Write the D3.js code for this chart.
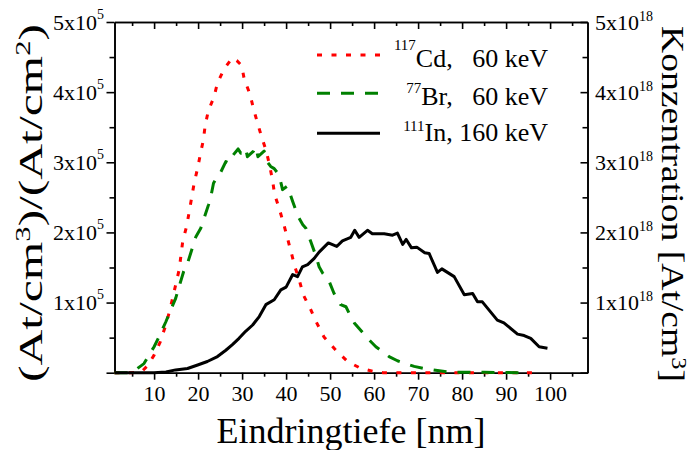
<!DOCTYPE html>
<html>
<head>
<meta charset="utf-8">
<script src="https://cdn.jsdelivr.net/npm/d3@7"></script>
<style>
  body { margin: 0; background: #fff; }
  svg { font-family: "Liberation Serif", "Times New Roman", serif; }
</style>
</head>
<body>
<svg id="chart" width="691" height="450"></svg>
<script>
// depth in nm, Cd and Br in units of 10^5 (At/cm3)/(At/cm2), In in units of 10^18 At/cm3
const cdDepth = [1, 3, 5, 6, 7.4, 8.5, 10, 11.4, 12.5, 13.4, 14.2, 15.7, 16.5, 17.4, 18, 19.1, 19.9, 20.5, 21.2, 21.6, 22.3, 23.6, 24.4, 25.9, 27.8, 28.8, 29.9, 30.5, 31.8, 32.6, 33.5, 34.4, 35.5, 36.3, 36.9, 37.4, 38.4, 39.5, 40.3, 41.1, 42, 43, 43.9, 45.6, 46.8, 48.6, 51.3, 54, 57, 60.4, 62, 70, 80, 90, 97];
const cdConc  = [0, 0, 0, 0.005, 0.03, 0.1, 0.25, 0.44, 0.65, 0.85, 1.06, 1.47, 1.87, 2.09, 2.3, 2.7, 2.92, 3.11, 3.32, 3.52, 3.73, 3.93, 4.13, 4.33, 4.49, 4.45, 4.38, 4.18, 3.97, 3.76, 3.56, 3.37, 3.16, 2.94, 2.75, 2.54, 2.35, 2.11, 1.92, 1.73, 1.51, 1.32, 1.11, 0.9, 0.73, 0.51, 0.32, 0.16, 0.06, 0.01, 0, 0, 0, 0, 0];

const brDepth = [1, 4, 5, 6.2, 7.7, 10, 11.1, 12.7, 13.8, 14.9, 15.7, 16.7, 17.6, 18.7, 19.5, 20.6, 21.5, 22.4, 22.9, 23.5, 24.4, 25, 26.3, 27, 27.4, 29.1, 29.7, 30.8, 31.2, 32.6, 33.1, 33.6, 35, 35.8, 36.5, 37.3, 38.4, 39.2, 40.3, 41.5, 42.7, 43.8, 44.5, 45.6, 46.8, 47.5, 48.3, 49.8, 50.9, 52.4, 53.6, 54.3, 55.5, 56.6, 58.5, 60.4, 63.4, 65.3, 69.1, 71.4, 74.4, 76.7, 80, 85, 93];
const brConc  = [0, 0, 0.02, 0.06, 0.13, 0.37, 0.51, 0.73, 0.9, 1.06, 1.23, 1.44, 1.56, 1.78, 1.94, 2.06, 2.23, 2.4, 2.51, 2.7, 2.8, 2.84, 3.01, 2.99, 3.06, 3.19, 3.13, 3.2, 3.08, 3.16, 3.22, 3.08, 3.16, 3.0, 2.94, 2.91, 2.82, 2.61, 2.66, 2.44, 2.23, 2.11, 2.06, 1.87, 1.66, 1.51, 1.42, 1.3, 1.13, 0.97, 0.94, 0.85, 0.71, 0.63, 0.49, 0.37, 0.23, 0.17, 0.09, 0.06, 0.03, 0.01, 0.005, 0.005, 0];

const inDepth = [1, 10, 12.7, 14.9, 17.6, 19.9, 22.1, 24.4, 26.3, 27.8, 29.3, 30.8, 32.4, 33.9, 35.4, 37.3, 38.8, 40, 41.5, 42.6, 43.7, 44.9, 46.4, 47.5, 49.6, 51.5, 52.8, 54.7, 55.6, 56.6, 58.5, 59.6, 62.3, 64.2, 65.3, 66.5, 67.3, 68.5, 69.7, 71.5, 72.5, 74.4, 75.4, 78.2, 80.5, 82.4, 83.5, 84.6, 88, 89.5, 92.6, 94.1, 95.6, 97.5, 99.4];
const inConc  = [0, 0, 0.01, 0.04, 0.06, 0.11, 0.16, 0.23, 0.32, 0.4, 0.49, 0.59, 0.68, 0.8, 0.97, 1.04, 1.18, 1.22, 1.4, 1.37, 1.51, 1.54, 1.63, 1.72, 1.85, 1.8, 1.88, 1.93, 2.03, 1.93, 2.03, 1.98, 1.98, 1.96, 1.99, 1.83, 1.9, 1.78, 1.79, 1.71, 1.7, 1.43, 1.48, 1.37, 1.11, 1.13, 1.01, 1.01, 0.75, 0.71, 0.55, 0.53, 0.49, 0.37, 0.35];

const xMajor = [10, 20, 30, 40, 50, 60, 70, 80, 90, 100];
const xMinor = [5, 15, 25, 35, 45, 55, 65, 75, 85, 95, 105];
const yMajor = [0, 1, 2, 3, 4, 5];
const yMinor = [0.5, 1.5, 2.5, 3.5, 4.5];

const legendIso   = ["117", "77", "111"];
const legendLabel = ["Cd,   60 keV", "Br,   60 keV", "In, 160 keV"];

const svg = d3.select("#chart");

const x = d3.scaleLinear().domain([1, 108.5]).range([114.5, 587.5]);
const yL = d3.scaleLinear().domain([0, 5]).range([372.7, 22]);
const yR = d3.scaleLinear().domain([0, 5]).range([372.7, 22]);

const plotLeft = x.range()[0], plotRight = x.range()[1];
const plotTop = yL.range()[1], plotBottom = yL.range()[0];

// sci labels "Nx10^k"
function sciLabels(sel, exp, supDy) {
  sel.each(function(d) {
    const t = d3.select(this);
    t.text(null);
    if (d === 0) return;
    t.append("tspan").text(d + "x10");
    t.append("tspan").attr("dy", supDy).attr("font-size", 14).text(exp);
  });
}

function styleAxis(g) {
  g.select(".domain").attr("stroke", "#000").attr("stroke-width", 1.6);
  g.selectAll(".tick line").attr("stroke", "#000").attr("stroke-width", 1.6);
  g.selectAll("text").attr("fill", "#000").attr("font-size", 22)
    .attr("font-family", "Liberation Serif, Times New Roman, serif");
}

// bottom
svg.append("g").attr("transform", `translate(0,${plotBottom})`)
  .call(d3.axisBottom(x).tickValues(xMinor).tickSize(4).tickSizeOuter(0).tickFormat(""))
  .call(styleAxis);
svg.append("g").attr("transform", `translate(0,${plotBottom})`)
  .call(d3.axisBottom(x).tickValues(xMajor).tickSize(7).tickSizeOuter(0).tickPadding(6))
  .call(styleAxis);

// top (inward)
svg.append("g").attr("transform", `translate(0,${plotTop})`)
  .call(d3.axisTop(x).tickValues(xMinor).tickSize(-4).tickSizeOuter(0).tickFormat(""))
  .call(styleAxis);
svg.append("g").attr("transform", `translate(0,${plotTop})`)
  .call(d3.axisTop(x).tickValues(xMajor).tickSize(-7).tickSizeOuter(0).tickFormat(""))
  .call(styleAxis);

// left
svg.append("g").attr("transform", `translate(${plotLeft},0)`)
  .call(d3.axisLeft(yL).tickValues(yMinor).tickSize(5).tickSizeOuter(0).tickFormat(""))
  .call(styleAxis);
svg.append("g").attr("transform", `translate(${plotLeft},0)`)
  .call(d3.axisLeft(yL).tickValues(yMajor).tickSize(8).tickSizeOuter(0).tickPadding(2.5))
  .call(styleAxis)
  .call(g => g.selectAll(".tick text").call(sciLabels, "5", -11));

// right (inward)
svg.append("g").attr("transform", `translate(${plotRight},0)`)
  .call(d3.axisRight(yR).tickValues(yMinor).tickSize(-5).tickSizeOuter(0).tickFormat(""))
  .call(styleAxis);
svg.append("g").attr("transform", `translate(${plotRight},0)`)
  .call(d3.axisRight(yR).tickValues(yMajor).tickSize(-7).tickSizeOuter(0).tickPadding(7.5))
  .call(styleAxis)
  .call(g => g.selectAll(".tick text").call(sciLabels, "18", -9));

// curves
const lineL = d3.line().x(d => x(d[0])).y(d => yL(d[1]));
const lineR = d3.line().x(d => x(d[0])).y(d => yR(d[1]));

const series = [
  { pts: d3.zip(cdDepth, cdConc), line: lineL, color: "#ff0000", dash: "5,9.5" },
  { pts: d3.zip(brDepth, brConc), line: lineL, color: "#008000", dash: "13,11" },
  { pts: d3.zip(inDepth, inConc), line: lineR, color: "#000000", dash: null }
];

svg.append("g").selectAll("path").data(series).join("path")
  .attr("d", s => s.line(s.pts))
  .attr("fill", "none")
  .attr("stroke", s => s.color)
  .attr("stroke-width", 3)
  .attr("stroke-linejoin", "round")
  .attr("stroke-dasharray", s => s.dash);

// legend
const legY = [55, 93.3, 133.3];
const legBase = [66.7, 105, 141];
const legSup = [-17, -12, -10];
const leg = svg.append("g");
series.forEach((s, i) => {
  leg.append("line")
    .attr("x1", 317).attr("x2", 380).attr("y1", legY[i]).attr("y2", legY[i])
    .attr("stroke", s.color).attr("stroke-width", 3)
    .attr("stroke-dasharray", s.dash);
  const t = leg.append("text")
    .attr("x", 548).attr("y", legBase[i])
    .attr("text-anchor", "end")
    .attr("font-size", 26)
    .style("white-space", "pre");
  t.append("tspan").attr("font-size", 15).attr("dy", legSup[i]).text(legendIso[i]);
  t.append("tspan").attr("dy", -legSup[i]).text(legendLabel[i]);
});

// titles
svg.append("text")
  .attr("x", 351).attr("y", 443)
  .attr("text-anchor", "middle")
  .attr("font-size", 36)
  .text("Eindringtiefe [nm]");

function stretch(t, len, base) {
  const w = t.node().getComputedTextLength();
  t.attr("transform", base + ` scale(${len / w},1)`);
}

const yt = svg.append("text").attr("text-anchor", "middle").attr("font-size", 34);
yt.append("tspan").text("(At/cm");
yt.append("tspan").attr("font-size", 21).attr("dy", -12).text("3");
yt.append("tspan").attr("dy", 12).text(")/(At/cm");
yt.append("tspan").attr("font-size", 21).attr("dy", -12).text("2");
yt.append("tspan").attr("dy", 12).text(")");
stretch(yt, 358, "translate(42,203) rotate(-90)");

const rt = svg.append("text").attr("text-anchor", "middle").attr("font-size", 31);
rt.append("tspan").text("Konzentration [At/cm");
rt.append("tspan").attr("font-size", 20).attr("dy", -10).text("3");
rt.append("tspan").attr("dy", 10).text("]");
stretch(rt, 356, "translate(662,204) rotate(90)");
</script>
</body>
</html>
